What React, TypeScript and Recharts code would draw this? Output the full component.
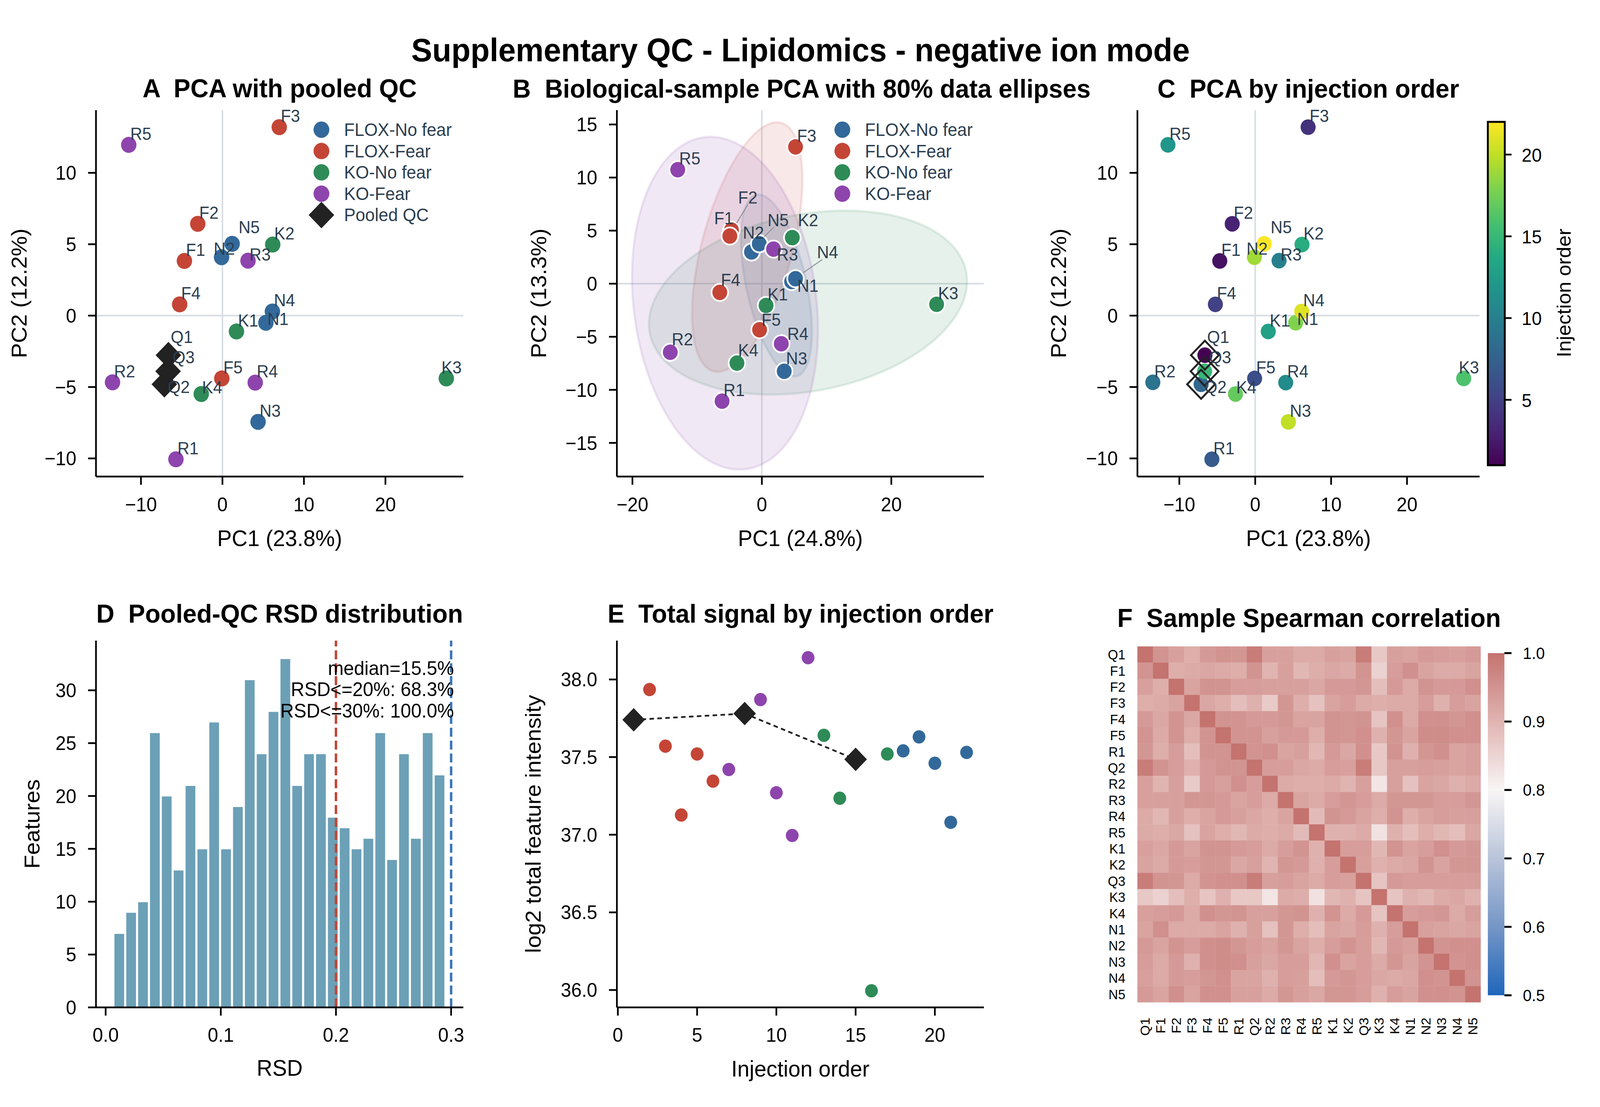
import React from 'react';
import {
  ScatterChart, Scatter, BarChart, Bar, XAxis, YAxis, ReferenceLine, Legend,
} from 'recharts';

const FONT = "'Liberation Sans', Arial, sans-serif";

// ---------- data ----------
const sampleLabels = ['Q1','F1','F2','F3','F4','F5','R1','Q2','R2','R3','R4','R5','K1','K2','Q3','K3','K4','N1','N2','N3','N4','N5'];
const injectionOrder = [1,2,3,4,5,6,7,8,9,10,11,12,13,14,15,16,17,18,19,20,21,22];
const pc1All = [-6.63,-4.67,-3.03,6.97,-5.25,-0.08,-5.71,-7.13,-13.49,3.14,4.02,-11.5,1.72,6.17,-6.67,27.47,-2.6,5.33,-0.11,4.37,6.13,1.19];
const pc2All = [-2.77,3.83,6.43,13.2,0.79,-4.4,-10.06,-4.81,-4.67,3.85,-4.69,11.96,-1.11,4.98,-3.9,-4.4,-5.49,-0.5,4.09,-7.44,0.29,5.03];
const bioLabels = ['F1','F2','F3','F4','F5','R1','R2','R3','R4','R5','K1','K2','K3','K4','N1','N2','N3','N4','N5'];
const pc1Bio = [-4.7,-4.95,5.2,-6.5,-0.35,-6.15,-14.15,1.8,3,-13,0.65,4.7,27,-3.85,4.6,-1.6,3.45,5.2,-0.4];
const pc2Bio = [5.05,4.49,12.89,-0.82,-4.34,-11.07,-6.46,3.26,-5.66,10.74,-2.05,4.34,-1.94,-7.48,0.2,2.99,-8.25,0.47,3.76];
const log2Total = [37.74,37.935,37.57,37.127,37.52,37.345,37.42,37.78,37.87,37.27,36.995,38.14,37.64,37.235,37.485,35.995,37.52,37.54,37.63,37.46,37.08,37.53];
const rsdBinCenters = [0.0117,0.022,0.0323,0.0426,0.0529,0.0632,0.0735,0.0838,0.0941,0.1044,0.1147,0.125,0.1353,0.1456,0.1559,0.1662,0.1765,0.1868,0.1971,0.2074,0.2177,0.228,0.2383,0.2486,0.2589,0.2692,0.2795,0.2898];
const rsdCounts = [7,9,10,26,20,13,21,15,27,15,19,31,24,28,33,21,24,24,18,17,15,16,26,14,24,16,26,22];
const rsdNotes = ['median=15.5%','RSD<=20%: 68.3%','RSD<=30%: 100.0%'];
// upper triangle of the correlation matrix, row by row (diagonal = 1 left out)
const corrUpper = [
  [.95,.93,.91,.94,.95,.945,.985,.93,.93,.915,.915,.93,.925,.985,.87,.93,.925,.94,.935,.93,.94],
  [.91,.915,.92,.915,.91,.95,.90,.93,.895,.91,.92,.915,.95,.855,.935,.955,.925,.915,.915,.925],
  [.925,.95,.95,.935,.935,.93,.93,.93,.92,.94,.94,.945,.885,.94,.915,.95,.94,.94,.955],
  [.92,.91,.885,.905,.865,.945,.91,.88,.925,.935,.915,.91,.915,.915,.935,.905,.935,.925],
  [.95,.95,.94,.94,.945,.925,.925,.95,.945,.95,.875,.955,.915,.955,.955,.945,.955],
  [.95,.95,.93,.94,.94,.91,.95,.945,.955,.905,.945,.925,.96,.96,.955,.955],
  [.95,.955,.925,.93,.895,.94,.92,.955,.87,.95,.905,.945,.955,.925,.93],
  [.935,.935,.92,.915,.935,.93,.985,.87,.93,.93,.935,.93,.925,.93],
  [.915,.91,.91,.915,.90,.93,.825,.93,.88,.925,.92,.905,.915],
  [.925,.915,.935,.945,.935,.915,.945,.945,.945,.935,.935,.945],
  [.89,.95,.94,.925,.91,.95,.91,.925,.935,.93,.93],
  [.905,.905,.915,.83,.905,.885,.91,.895,.885,.92],
  [.935,.935,.895,.95,.925,.935,.955,.94,.945],
  [.93,.905,.915,.92,.95,.925,.945,.945],
  [.875,.94,.935,.935,.935,.935,.935],
  [.875,.905,.895,.915,.92,.905],
  [.935,.94,.945,.915,.935],
  [.93,.925,.92,.925],
  [.95,.955,.955],
  [.95,.955],
  [.95],
];
const groupNames = ['FLOX-No fear','FLOX-Fear','KO-No fear','KO-Fear'];
const groupPrefixes = ['N','F','K','R'];

// ---------- styles ----------
const groupColors = ['#33699a','#c44536','#2e8b57','#8e44ad'];
const QC_COLOR = '#222222';
const LABEL_COLOR = '#2c3e50';
const ZERO_COLOR = '#d8dde3';
const viridis = ['#440154','#482475','#414487','#355f8d','#2a788e','#21918c','#22a884','#44bf70','#7ad151','#bddf26','#fde725'];
const heatStops: [number, string][] = [[0.5,'#1f66bb'],[0.6,'#7596c6'],[0.7,'#b9c4da'],[0.8,'#f8f5f5'],[0.9,'#e0b4b1'],[1,'#c4736f']];

const hex = (c: string) => [1,3,5].map(i => parseInt(c.slice(i,i+2),16));
const mix = (a: string, b: string, t: number) => {
  const A = hex(a), B = hex(b);
  return `rgb(${A.map((v,i)=>Math.round(v+(B[i]-v)*t)).join(',')})`;
};
const viridisAt = (order: number) => {
  const t = (order-1)/21*10, i = Math.min(9, Math.floor(t));
  return mix(viridis[i], viridis[i+1], t-i);
};
const heatColor = (v: number) => {
  for (let i=0;i<heatStops.length-1;i++) {
    if (v <= heatStops[i+1][0]) return mix(heatStops[i][1], heatStops[i+1][1], (v-heatStops[i][0])/(heatStops[i+1][0]-heatStops[i][0]));
  }
  return heatStops[heatStops.length-1][1];
};

// ---------- tables ----------
const allPoints = sampleLabels.map((label,i)=>({label,x:pc1All[i],y:pc2All[i],order:injectionOrder[i],total:log2Total[i]}));
const bioPoints = bioLabels.map((label,i)=>({label,x:pc1Bio[i],y:pc2Bio[i]}));
const qcPoints = allPoints.filter(p=>p.label[0]==='Q');
const ofGroup = <T extends {label:string}>(pts:T[], g:number) => pts.filter(p=>p.label[0]===groupPrefixes[g]);
const histData = rsdBinCenters.map((rsd,i)=>({rsd,count:rsdCounts[i]}));
const corrMatrix = sampleLabels.map((_,i)=>sampleLabels.map((_2,j)=>{
  if (i===j) return 1;
  const a=Math.min(i,j), b=Math.max(i,j);
  return corrUpper[a][b-a-1];
}));
const corrCells = corrMatrix.flatMap((row,j)=>row.map((v,i)=>({x:i+0.5,y:j+0.5,v})));
const cellTicks = sampleLabels.map((_,i)=>i+0.5);

// 80% data ellipse computed from a group's own points (sample covariance, chi2(0.8, 2) radius)
const ellipseOutline = (pts:{x:number,y:number}[]) => {
  const n=pts.length, mx=pts.reduce((s,p)=>s+p.x,0)/n, my=pts.reduce((s,p)=>s+p.y,0)/n;
  const sxx=pts.reduce((s,p)=>s+(p.x-mx)**2,0)/(n-1), syy=pts.reduce((s,p)=>s+(p.y-my)**2,0)/(n-1), sxy=pts.reduce((s,p)=>s+(p.x-mx)*(p.y-my),0)/(n-1);
  const th=0.5*Math.atan2(2*sxy,sxx-syy), tr=sxx+syy, d=Math.sqrt((sxx-syy)**2+4*sxy*sxy);
  const a=Math.sqrt((tr+d)/2)*1.794, b=Math.sqrt(Math.max(0,(tr-d)/2))*1.794;
  return Array.from({length:121},(_,k)=>{
    const t=k/120*2*Math.PI, u=a*Math.cos(t), v=b*Math.sin(t);
    return {x:mx+u*Math.cos(th)-v*Math.sin(th), y:my+u*Math.sin(th)+v*Math.cos(th)};
  });
};

// ---------- label placement (pixels relative to the marker) ----------
const DEFAULT_NUDGE:[number,number]=[4,-13];
const nudgeA:Record<string,[number,number]>={N5:[17,-27],N2:[-21,-7],R3:[4,0],N1:[4,6],Q1:[6,-31],Q3:[12,-21],Q2:[9,22],K4:[2,-2],K3:[-13,-13]};
const nudgeB:Record<string,[number,number]>={F1:[-46,-15],F2:[22,-83],N2:[-23,-34],N5:[22,-45],K2:[15,-29],R3:[9,29],N4:[57,-52],N1:[15,26],F4:[3,-17],F5:[5,-10],R4:[16,-10],R2:[4,-18],K4:[3,-18],N3:[5,-17]};
const leadersB:Record<string,number[]>={F2:[18,-33,48,-81],N5:[13,-18,39,-43],N4:[20,-15,71,-49]};

// ---------- shapes ----------
const circle=(color:string,r=20.5,edge=0)=>(p:any)=>(
  <circle cx={p.cx} cy={p.cy} r={r} fill={color} stroke={edge?'#fff':'none'} strokeWidth={edge}/>
);
const diamondPath=(cx:number,cy:number,h:number)=>`M${cx},${cy-h}L${cx+h},${cy}L${cx},${cy+h}L${cx-h},${cy}Z`;
const diamond=(h=34)=>(p:any)=><path d={diamondPath(p.cx,p.cy,h)} fill={QC_COLOR}/>;
const hollowDiamond=(p:any)=><path d={diamondPath(p.cx,p.cy,37)} fill="none" stroke={QC_COLOR} strokeWidth={5}/>;
const labelShape=(nudges:Record<string,[number,number]>,leaders:Record<string,number[]>={})=>(p:any)=>{
  const name=p.payload.label, [dx,dy]=nudges[name]??DEFAULT_NUDGE, l=leaders[name];
  return (
    <g>
      {l&&<line x1={p.cx+l[0]} y1={p.cy+l[1]} x2={p.cx+l[2]} y2={p.cy+l[3]} stroke="#8a929a" strokeWidth={2.5}/>}
      <text x={p.cx+dx} y={p.cy+dy} fontSize={44} fontFamily={FONT} fill={LABEL_COLOR}>{name}</text>
    </g>
  );
};
const noMark=()=><g/>;
const ellipseLine=(color:string)=>(p:any)=>(
  <path d={'M'+p.points.map((q:any)=>`${q.x},${q.y}`).join('L')+'Z'} fill={color} fillOpacity={0.12} stroke={color} strokeOpacity={0.13} strokeWidth={6}/>
);
const cellShape=(p:any)=>(
  <rect x={p.cx-20.9} y={p.cy-20.9} width={41.8} height={41.8} fill={heatColor(p.payload.v)}/>
);
const rotatedTick=(p:any)=>(
  <text transform={`rotate(-90 ${p.x+12} ${p.y+37})`} x={p.x+12} y={p.y+37} textAnchor="end" fontSize={35} fontFamily={FONT} fill="#000">
    {sampleLabels[Math.floor(p.payload.value)]}
  </text>
);

// ---------- axes ----------
const spine={stroke:'#000',strokeWidth:4.5};
const tickText={fontSize:50,fill:'#000',fontFamily:FONT};
const axisProps:any={type:'number',tickSize:21,axisLine:spine,tickLine:spine,tick:tickText,interval:0};
const minus=(v:number)=>String(v).replace('-','\u2212');
const titleStyle={fontSize:58,fill:'#000',fontFamily:FONT};
const xTitle=(value:string,offset:number)=>({value,position:'insideBottom',offset,style:titleStyle});
const yTitle=(value:string,offset:number)=>({value,angle:-90,position:'insideLeft',offset,style:{...titleStyle,textAnchor:'middle'}});

const legendContent=(props:any)=>{
  const items=(props.payload||[]).filter((i:any)=>i.type!=='none');
  return (
    <svg width={420} height={items.length*54.6+10} style={{display:'block',overflow:'visible'}}>
      {items.map((it:any,i:number)=>{
        const y=30+i*54.6;
        return (
          <g key={it.value}>
            {it.value==='Pooled QC'
              ?<path d={diamondPath(40,y,34)} fill={QC_COLOR}/>
              :<circle cx={40} cy={y} r={21} fill={it.color}/>}
            <text x={100} y={y+16} fontSize={46} fontFamily={FONT} fill={LABEL_COLOR}>{it.value}</text>
          </g>
        );
      })}
    </svg>
  );
};

const Box=({l,t,children}:{l:number,t:number,children:React.ReactNode})=>(
  <div style={{position:'absolute',left:l,top:t}}>{children}</div>
);

// plot areas
const M_TOP={top:82,right:69,bottom:0,left:0};

const PanelA=()=>(
  <Box l={0} t={200}>
    <ScatterChart width={1300} height={1260} margin={M_TOP}>
      <XAxis {...axisProps} dataKey="x" height={240} domain={[-15.52,29.56]} ticks={[-10,0,10,20]} tickFormatter={minus} tickMargin={33} label={xTitle('PC1 (23.8%)',62)}/>
      <YAxis {...axisProps} dataKey="y" width={255} domain={[-11.27,14.39]} ticks={[-10,-5,0,5,10]} tickFormatter={minus} tickMargin={31} label={yTitle('PC2 (12.2%)',50)}/>
      <ReferenceLine x={0} stroke={ZERO_COLOR} strokeWidth={4}/>
      <ReferenceLine y={0} stroke={ZERO_COLOR} strokeWidth={4}/>
      {groupNames.map((name,g)=>(
        <Scatter key={name} name={name} data={ofGroup(allPoints,g)} fill={groupColors[g]} shape={circle(groupColors[g])} isAnimationActive={false}/>
      ))}
      <Scatter name="Pooled QC" data={qcPoints} fill={QC_COLOR} shape={diamond()} isAnimationActive={false}/>
      <Scatter name="labels" legendType="none" data={allPoints} fill="none" shape={labelShape(nudgeA)} isAnimationActive={false}/>
      <Legend layout="horizontal" verticalAlign="middle" align="center" itemSorter={null} content={legendContent} wrapperStyle={{left:814,top:102,width:420}}/>
    </ScatterChart>
  </Box>
);

const PanelB=()=>(
  <Box l={1300} t={200}>
    <ScatterChart width={1400} height={1260} margin={{top:82,right:86,bottom:0,left:0}}>
      <XAxis {...axisProps} dataKey="x" height={240} domain={[-22.4,34.3]} ticks={[-20,0,20]} tickFormatter={minus} tickMargin={33} label={xTitle('PC1 (24.8%)',62)}/>
      <YAxis {...axisProps} dataKey="y" width={339} domain={[-18.17,16.35]} ticks={[-15,-10,-5,0,5,10,15]} tickFormatter={minus} tickMargin={31} label={yTitle('PC2 (13.3%)',130)}/>
      {groupNames.map((name,g)=>(
        <Scatter key={'e'+name} name={'e'+name} legendType="none" data={ellipseOutline(ofGroup(bioPoints,g))} fill={groupColors[g]} shape={noMark} line={ellipseLine(groupColors[g])} isAnimationActive={false}/>
      ))}
      <ReferenceLine x={0} stroke={ZERO_COLOR} strokeWidth={4}/>
      <ReferenceLine y={0} stroke={ZERO_COLOR} strokeWidth={4}/>
      {groupNames.map((name,g)=>(
        <Scatter key={name} name={name} data={ofGroup(bioPoints,g)} fill={groupColors[g]} shape={circle(groupColors[g],22,4.5)} isAnimationActive={false}/>
      ))}
      <Scatter name="labels" legendType="none" data={bioPoints} fill="none" shape={labelShape(nudgeB,leadersB)} isAnimationActive={false}/>
      <Legend layout="horizontal" verticalAlign="middle" align="center" itemSorter={null} content={legendContent} wrapperStyle={{left:898,top:102,width:420}}/>
    </ScatterChart>
  </Box>
);

const PanelC=()=>(
  <Box l={2700} t={200}>
    <ScatterChart width={1300} height={1260} margin={M_TOP}>
      <XAxis {...axisProps} dataKey="x" height={240} domain={[-15.52,29.56]} ticks={[-10,0,10,20]} tickFormatter={minus} tickMargin={33} label={xTitle('PC1 (23.8%)',62)}/>
      <YAxis {...axisProps} dataKey="y" width={322} domain={[-11.27,14.39]} ticks={[-10,-5,0,5,10]} tickFormatter={minus} tickMargin={31} label={yTitle('PC2 (12.2%)',112)}/>
      <ReferenceLine x={0} stroke={ZERO_COLOR} strokeWidth={4}/>
      <ReferenceLine y={0} stroke={ZERO_COLOR} strokeWidth={4}/>
      <Scatter name="samples" data={allPoints} fill="#2a788e" shape={(p:any)=><circle cx={p.cx} cy={p.cy} r={20} fill={viridisAt(p.payload.order)}/>} isAnimationActive={false}/>
      <Scatter name="Pooled QC" data={qcPoints} fill="none" shape={hollowDiamond} isAnimationActive={false}/>
      <Scatter name="labels" data={allPoints} fill="none" shape={labelShape(nudgeA)} isAnimationActive={false}/>
    </ScatterChart>
  </Box>
);

const PanelD=()=>(
  <Box l={0} t={1600}>
    <BarChart width={1300} height={1234} data={histData} margin={{top:40,right:69,bottom:0,left:0}}>
      <XAxis {...axisProps} dataKey="rsd" height={255} domain={[-0.0084,0.3106]} ticks={[0,0.1,0.2,0.3]} tickFormatter={(v:number)=>v.toFixed(1)} tickMargin={32} label={xTitle('RSD',80)}/>
      <YAxis {...axisProps} dataKey="count" width={255} domain={[0,34.7]} ticks={[0,5,10,15,20,25,30]} tickMargin={31} label={yTitle('Features',84)}/>
      <Bar dataKey="count" barSize={32} fill="#6ba0b7" stroke="#fff" strokeWidth={2.5} isAnimationActive={false}/>
      <ReferenceLine x={0.2} stroke="#c44536" strokeWidth={6.5} strokeDasharray="23 10"/>
      <ReferenceLine x={0.3} stroke="#3a78b8" strokeWidth={6.5} strokeDasharray="23 10"/>
    </BarChart>
  </Box>
);

const PanelE=()=>(
  <Box l={1300} t={1600}>
    <ScatterChart width={1400} height={1234} margin={{top:40,right:86,bottom:0,left:0}}>
      <XAxis {...axisProps} dataKey="order" height={255} domain={[-0.06,23.09]} ticks={[0,5,10,15,20]} tickMargin={32} label={xTitle('Injection order',78)}/>
      <YAxis {...axisProps} dataKey="total" width={339} domain={[35.888,38.25]} ticks={[36,36.5,37,37.5,38]} tickFormatter={(v:number)=>v.toFixed(1)} tickMargin={31} label={yTitle('log2 total feature intensity',116)}/>
      <Scatter name="Pooled QC" data={qcPoints} fill={QC_COLOR} shape={diamond(30)} line={{stroke:QC_COLOR,strokeWidth:4.5,strokeDasharray:'12 9'}} isAnimationActive={false}/>
      {groupNames.map((name,g)=>(
        <Scatter key={name} name={name} data={ofGroup(allPoints,g)} fill={groupColors[g]} shape={circle(groupColors[g],17)} isAnimationActive={false}/>
      ))}
    </ScatterChart>
  </Box>
);

const PanelF=()=>(
  <Box l={2800} t={1620}>
    <ScatterChart width={1200} height={1214} margin={{top:35,right:66,bottom:0,left:0}}>
      <XAxis type="number" dataKey="x" height={268} domain={[0,22]} ticks={cellTicks} interval={0} tickSize={0} tickLine={false} axisLine={false} tick={rotatedTick}/>
      <YAxis type="number" dataKey="y" width={222} reversed domain={[0,22]} ticks={cellTicks} interval={0} tickSize={0} tickMargin={32} tickLine={false} axisLine={false}
        tick={{fontSize:35,fill:'#000',fontFamily:FONT}} tickFormatter={(v:number)=>sampleLabels[Math.floor(v)]}/>
      <Scatter name="corr" data={corrCells} fill="#c4736f" shape={cellShape} isAnimationActive={false}/>
    </ScatterChart>
  </Box>
);

const viridisTicks=[5,10,15,20];
const heatTicks=[0.5,0.6,0.7,0.8,0.9,1];

const Overlay=()=>{
  const T=(p:any)=><text fontFamily={FONT} fill="#000" xmlSpace="preserve" style={{whiteSpace:'pre'}} {...p}/>;
  return (
    <svg width={4251} height={2834} style={{position:'absolute',left:0,top:0,pointerEvents:'none'}}>
      <defs>
        <linearGradient id="vir" x1="0" y1="1" x2="0" y2="0">
          {viridis.map((c,i)=><stop key={c} offset={i/10} stopColor={c}/>)}
        </linearGradient>
        <linearGradient id="heat" x1="0" y1="1" x2="0" y2="0">
          {heatStops.map(([v,c])=><stop key={c} offset={(v-0.5)/0.5} stopColor={c}/>)}
        </linearGradient>
      </defs>
      <T x={2127} y={157} fontSize={83.3} fontWeight="bold" textAnchor="middle">Supplementary QC - Lipidomics - negative ion mode</T>
      <T x={743} y={249} fontSize={66.7} fontWeight="bold" textAnchor="middle">{'A  PCA with pooled QC'}</T>
      <T x={2130} y={250} fontSize={66.7} fontWeight="bold" textAnchor="middle">{'B  Biological-sample PCA with 80% data ellipses'}</T>
      <T x={3476} y={250} fontSize={66.7} fontWeight="bold" textAnchor="middle">{'C  PCA by injection order'}</T>
      <T x={743} y={1594} fontSize={66.7} fontWeight="bold" textAnchor="middle">{'D  Pooled-QC RSD distribution'}</T>
      <T x={2127} y={1594} fontSize={66.7} fontWeight="bold" textAnchor="middle">{'E  Total signal by injection order'}</T>
      <T x={3478} y={1605} fontSize={66.7} fontWeight="bold" textAnchor="middle">{'F  Sample Spearman correlation'}</T>
      {rsdNotes.map((s,i)=><T key={s} x={1206} y={1728+i*54.5} fontSize={50} textAnchor="end">{s}</T>)}
      {/* colour bar C */}
      <rect x={3953} y={312} width={45} height={879} fill="url(#vir)" stroke="#000" strokeWidth={5}/>
      {viridisTicks.map(v=>{
        const y=1191-(v-1)/21*879;
        return <g key={v}><line x1={3998} x2={4016} y1={y} y2={y} stroke="#000" strokeWidth={4.5}/><T x={4043} y={y+18} fontSize={48}>{v}</T></g>;
      })}
      <T transform="rotate(-90 4173 750)" x={4173} y={750} fontSize={52} textAnchor="middle">Injection order</T>
      {/* colour bar F */}
      <rect x={3953} y={1672} width={44} height={876} fill="url(#heat)"/>
      {heatTicks.map(v=>{
        const y=2548-(v-0.5)/0.5*876;
        return <g key={v}><line x1={3997} x2={4016} y1={y} y2={y} stroke="#000" strokeWidth={5}/><T x={4046} y={y+15} fontSize={42}>{v.toFixed(1)}</T></g>;
      })}
    </svg>
  );
};

// The browser window is capped at 4096 wide, so the 4251-wide layout is fitted to the window's width.
const FIT = typeof window !== 'undefined' ? Math.min(1, window.innerWidth/4251) : 1;

export default function App(){
  return (
    <div style={{position:'absolute',left:0,top:0,width:4251,height:2834,background:'#fff',overflow:'hidden',transform:`scaleX(${FIT})`,transformOrigin:'0 0'}}>
      <PanelA/><PanelB/><PanelC/><PanelD/><PanelE/><PanelF/>
      <Overlay/>
    </div>
  );
}
